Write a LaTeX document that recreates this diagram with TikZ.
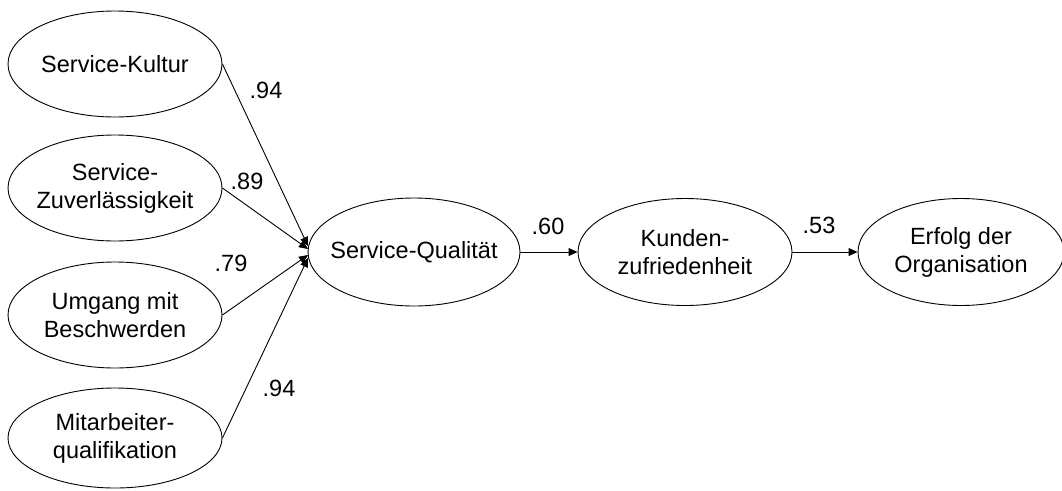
\documentclass[tikz,border=0pt]{standalone}
\usepackage{fontspec}
\setmainfont{Liberation Sans}
\usetikzlibrary{shapes.geometric,arrows.meta}
\begin{document}
\begin{tikzpicture}[x=1pt,y=-1pt,
  ell/.style={ellipse,draw,line width=0.9pt,inner sep=0pt,
    minimum width=214pt,minimum height=106pt},
  lab/.style={align=center,font=\fontsize{23.5}{28}\selectfont},
  coef/.style={font=\fontsize{23.5}{28}\selectfont,inner sep=0pt},
  path/.style={line width=0.9pt,-{Triangle[length=9pt,width=8pt]}}]
\useasboundingbox (0,0) rectangle (1062,490);
% exogenous constructs
\node[ell,label={[lab]center:Service-Kultur}] (kul) at (115,64) {};
\node[ell,label={[lab]center:{Service-\\Zuverlässigkeit}}] (zuv) at (115,188) {};
\node[ell,label={[lab]center:{Umgang mit\\Beschwerden}}] (umg) at (115,315) {};
\node[ell,minimum height=100pt,label={[lab]center:{Mitarbeiter-\\qualifikation}}] (mit) at (115,438) {};
% endogenous chain
\node[ell,minimum width=212pt,minimum height=108pt,label={[lab]center:Service-Qualität}] (sq) at (414,252) {};
\node[ell,minimum height=107pt,label={[lab]center:{Kunden-\\zufriedenheit}}] (kz) at (685,252) {};
\node[ell,minimum width=206pt,minimum height=107pt,label={[lab]center:{Erfolg der\\Organisation}}] (eo) at (961,252) {};
% arrow tips on the left side of Service-Qualität
\coordinate (t1) at (308,246);
\coordinate (t2) at (308,249);
\coordinate (t3) at (308,255);
\coordinate (t4) at (308,258);
\draw[path] (kul.east) -- (t1);
\draw[path] (zuv.east) -- (t2);
\draw[path] (umg.east) -- (t3);
\draw[path] (mit.east) -- (t4);
\draw[path] (sq.east) -- (kz.west);
\draw[path] (kz.east) -- (eo.west);
% path coefficients
\node[coef] (c1) at (266,90) {.94};
\node[coef] (c2) at (247,181) {.89};
\node[coef] (c3) at (231,263) {.79};
\node[coef] (c4) at (279,388) {.94};
\node[coef] (c5) at (548,226) {.60};
\node[coef] (c6) at (819,225) {.53};
\end{tikzpicture}
\end{document}
